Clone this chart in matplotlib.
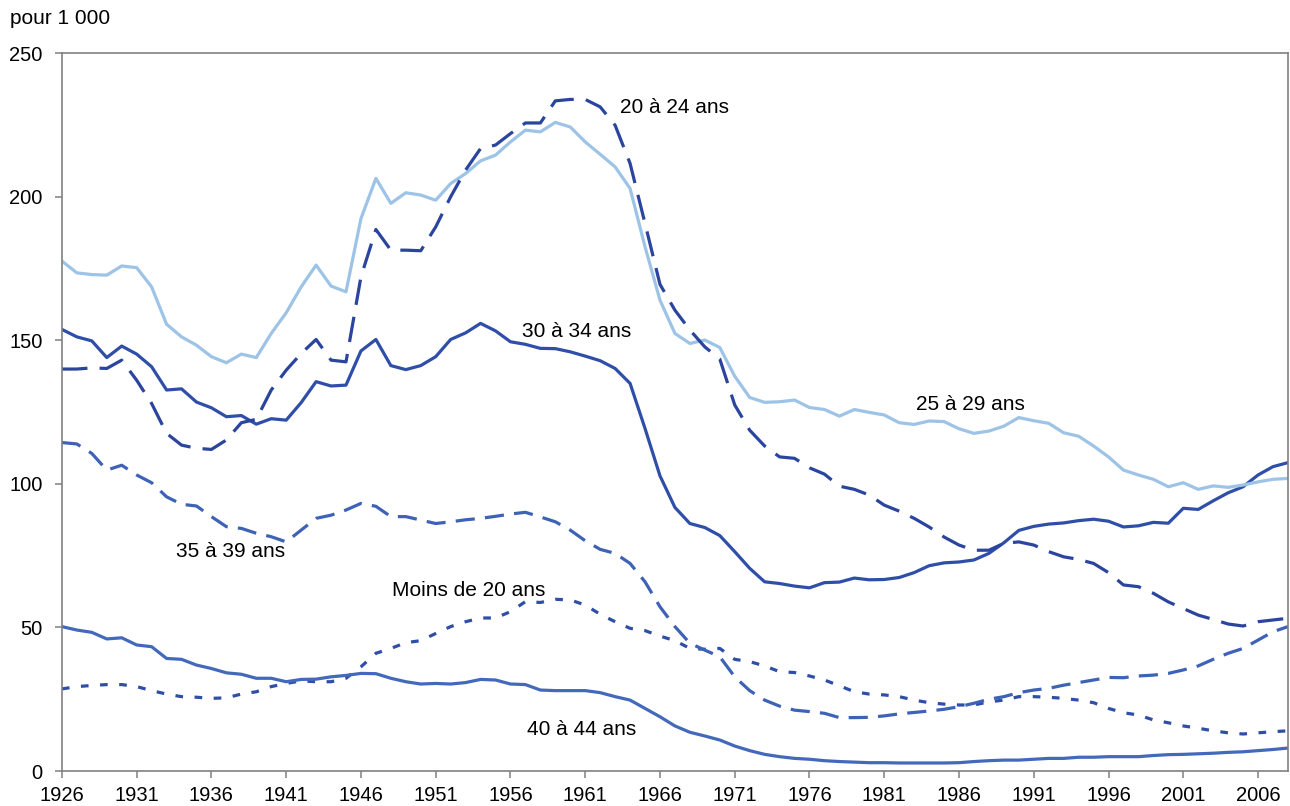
import numpy as np
import matplotlib
matplotlib.use("Agg")
import matplotlib.pyplot as plt
from matplotlib.ticker import MultipleLocator

plt.rcParams['font.family'] = ['Liberation Sans', 'DejaVu Sans']

# years 1926 -> 2008, rates per 1 000 women by age group
years = np.arange(1926, 2009)

ages_25_29 = [177.6, 173.5, 172.9, 172.7, 175.9, 175.3, 168.6, 155.6, 151.2, 148.3,
              144.3, 142.2, 145.2, 144.0, 152.4, 159.6, 168.6, 176.2, 168.9, 166.9,
              192.4, 206.4, 197.7, 201.4, 200.6, 198.8, 204.6, 208.1, 212.5, 214.5,
              219.1, 223.2, 222.6, 225.9, 224.3, 219.1, 214.8, 210.4, 202.9, 182.6,
              164.0, 152.4, 148.9, 150.1, 147.5, 137.5, 130.1, 128.4, 128.6, 129.2,
              126.6, 125.9, 123.6, 125.9, 124.9, 124.0, 121.3, 120.7, 121.9, 121.7,
              119.2, 117.6, 118.4, 120.1, 123.1, 122.0, 121.1, 117.8, 116.6, 113.2,
              109.4, 104.8, 103.1, 101.6, 99.0, 100.4, 98.1, 99.3, 98.8, 99.6,
              100.7, 101.6, 101.9]

ages_20_24 = [140.0, 140.0, 140.4, 140.2, 143.1, 136.1, 128.0, 117.6, 113.5, 112.4,
              112.0, 115.3, 121.3, 122.5, 132.7, 139.6, 145.4, 150.3, 143.1, 142.5,
              172.1, 188.6, 181.4, 181.4, 181.2, 189.5, 200.0, 209.3, 216.8, 218.0,
              222.0, 225.7, 225.7, 233.4, 233.9, 233.9, 231.3, 224.9, 211.6, 190.7,
              169.5, 160.5, 153.6, 147.7, 143.5, 127.5, 118.7, 113.2, 109.4, 108.9,
              105.6, 103.4, 99.2, 98.1, 96.1, 92.6, 90.5, 88.0, 85.0, 81.5,
              78.7, 76.9, 76.9, 79.3, 79.8, 78.7, 76.4, 74.6, 73.7, 72.3,
              69.1, 64.8, 64.2, 61.9, 58.9, 56.6, 54.3, 52.8, 51.2, 50.5,
              52.0, 52.6, 53.2]

ages_30_34 = [153.8, 151.2, 149.8, 144.0, 148.0, 145.2, 140.8, 132.7, 133.1, 128.5,
              126.5, 123.4, 123.8, 120.8, 122.7, 122.2, 128.3, 135.6, 134.1, 134.4,
              146.3, 150.3, 141.2, 139.8, 141.2, 144.3, 150.3, 152.6, 155.9, 153.3,
              149.5, 148.6, 147.2, 147.1, 146.0, 144.5, 142.9, 140.2, 135.0, 119.3,
              102.8, 91.8, 86.2, 84.8, 82.0, 76.4, 70.6, 65.9, 65.3, 64.4,
              63.8, 65.6, 65.8, 67.2, 66.6, 66.7, 67.4, 69.1, 71.5, 72.5,
              72.8, 73.5, 75.8, 79.5, 83.8, 85.2, 86.0, 86.4, 87.2, 87.7,
              87.0, 85.0, 85.4, 86.6, 86.3, 91.5, 91.1, 94.1, 96.9, 99.0,
              103.1, 106.0, 107.4]

ages_35_39 = [114.4, 113.9, 110.6, 104.8, 106.5, 103.1, 100.4, 95.5, 92.9, 92.3,
              88.6, 85.1, 84.5, 82.8, 81.6, 79.8, 83.9, 88.0, 89.1, 90.9,
              93.2, 92.2, 88.6, 88.6, 87.4, 86.2, 86.8, 87.5, 88.0, 88.7,
              89.5, 90.1, 88.5, 86.8, 83.9, 80.2, 77.2, 75.8, 72.3, 65.9,
              57.2, 50.3, 44.5, 42.1, 39.8, 32.8, 28.0, 24.7, 22.6, 21.2,
              20.7, 20.1, 18.6, 18.6, 18.7, 19.2, 19.9, 20.4, 20.9, 21.5,
              22.4, 23.6, 25.0, 25.9, 27.3, 28.2, 28.8, 29.9, 30.8, 31.7,
              32.6, 32.5, 33.1, 33.4, 34.0, 35.2, 36.6, 38.9, 41.0, 42.7,
              45.6, 48.5, 50.3]

ages_under_20 = [28.6, 29.4, 29.8, 30.1, 30.1, 29.4, 28.0, 26.8, 25.9, 25.7,
                 25.3, 25.5, 26.8, 27.6, 29.4, 30.5, 31.4, 31.1, 31.1, 32.3,
                 36.3, 41.0, 42.7, 44.7, 45.4, 47.9, 50.3, 52.0, 53.3, 53.3,
                 55.5, 59.0, 58.7, 59.8, 59.6, 57.8, 54.6, 52.0, 49.7, 48.9,
                 47.0, 45.4, 42.7, 42.4, 42.7, 38.9, 38.1, 36.6, 34.6, 34.3,
                 33.1, 31.7, 29.7, 27.6, 26.8, 26.5, 25.9, 24.7, 23.8, 23.3,
                 23.0, 23.0, 24.1, 24.7, 25.9, 25.9, 25.7, 25.3, 24.7, 23.8,
                 21.8, 20.3, 19.5, 17.8, 16.8, 15.7, 14.9, 14.0, 13.3, 12.9,
                 13.3, 13.7, 14.0]

ages_40_44 = [50.3, 49.1, 48.3, 46.0, 46.4, 43.9, 43.3, 39.2, 38.9, 36.9,
              35.7, 34.2, 33.7, 32.3, 32.3, 31.1, 31.9, 32.0, 32.8, 33.3,
              34.0, 33.9, 32.3, 31.1, 30.3, 30.5, 30.3, 30.8, 31.9, 31.7,
              30.3, 30.1, 28.2, 28.0, 28.0, 28.0, 27.3, 25.9, 24.7, 21.8,
              18.9, 15.7, 13.5, 12.2, 10.8, 8.7, 7.1, 5.8, 5.0, 4.4,
              4.1, 3.6, 3.3, 3.1, 2.9, 2.9, 2.8, 2.8, 2.8, 2.8,
              2.9, 3.3, 3.6, 3.8, 3.8, 4.1, 4.4, 4.4, 4.8, 4.8,
              5.0, 5.0, 5.0, 5.4, 5.7, 5.8, 6.0, 6.2, 6.5, 6.7,
              7.1, 7.5, 8.0]

fig = plt.figure(figsize=(12.9, 8.06), dpi=100)
ax = fig.add_axes([0.048, 0.0434, 0.9504, 0.8906])

lw = 2.3
ax.plot(years, ages_under_20, color='#2F4EA6', lw=lw, dashes=(2.4, 3.6))
ax.plot(years, ages_40_44, color='#4369BB', lw=lw)
ax.plot(years, ages_35_39, color='#3D62B6', lw=lw, dashes=(6.0, 3.2))
ax.plot(years, ages_30_34, color='#2F4EA8', lw=lw)
ax.plot(years, ages_25_29, color='#9DC3E6', lw=lw)
ax.plot(years, ages_20_24, color='#2B459F', lw=lw, dashes=(8.0, 3.8))

# series labels
ax.text(1963.3, 231.2, "20 à 24 ans", fontsize=15, ha='left', va='center')
ax.text(1956.8, 152.9, "30 à 34 ans", fontsize=15, ha='left', va='center')
ax.text(1983.1, 127.8, "25 à 29 ans", fontsize=15, ha='left', va='center')
ax.text(1933.6, 76.6, "35 à 39 ans", fontsize=15, ha='left', va='center')
ax.text(1948.1, 62.7, "Moins de 20 ans", fontsize=15, ha='left', va='center')
ax.text(1957.1, 14.6, "40 à 44 ans", fontsize=15, ha='left', va='center')

fig.text(10 / 1290, 1 - 18 / 806, "pour 1 000", fontsize=15, ha='left', va='center')

ax.set_xlim(1926, 2008)
ax.set_ylim(0, 250)
ax.set_xticks(np.arange(1926, 2007, 5))
ax.yaxis.set_major_locator(MultipleLocator(50))
ax.tick_params(axis='both', direction='out', length=5, width=1.1, color='#808080',
               labelsize=14.5, labelcolor='black')
ax.tick_params(axis='y', pad=9)
ax.tick_params(axis='x', pad=6)
for s in ax.spines.values():
    s.set_color('#808080')
    s.set_linewidth(1.2)

plt.savefig("out.png", dpi=100)
